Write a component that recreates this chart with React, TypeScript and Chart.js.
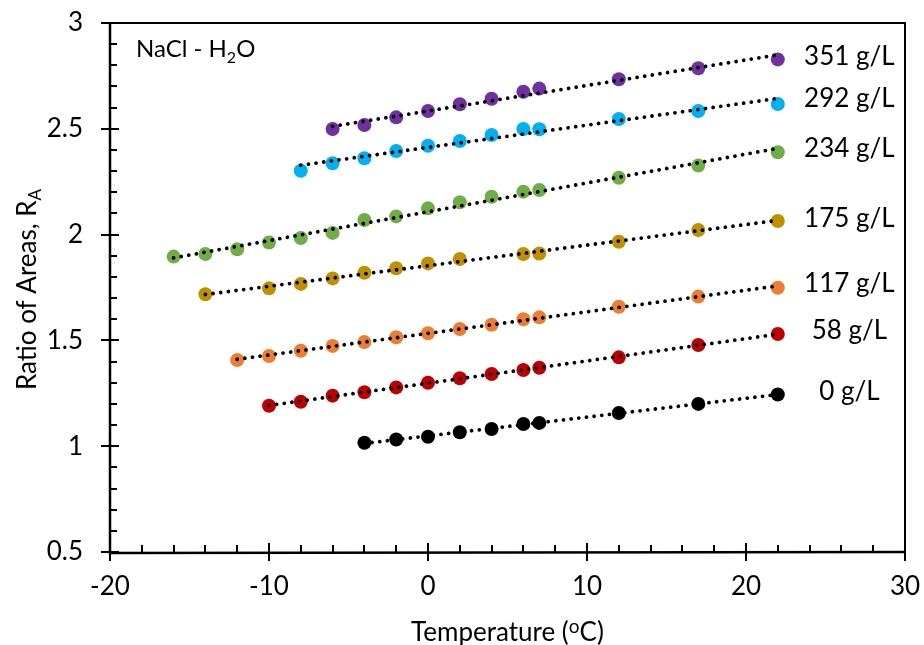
import React, { useEffect, useRef } from "react";
import { Chart, registerables } from "chart.js";

Chart.register(...registerables);

// ---- data ----
const seriesNames = ["0 g/L", "58 g/L", "117 g/L", "175 g/L", "234 g/L", "292 g/L", "351 g/L"];
const seriesColors = ["#000000", "#C00000", "#ED7D31", "#BF9000", "#70AD47", "#00B0F0", "#7030A0"];

const temps0 = [-4, -2, 0, 2, 4, 6, 7, 12, 17, 22];
const ratio0 = [1.016, 1.032, 1.045, 1.066, 1.081, 1.105, 1.11, 1.157, 1.2, 1.244];

const temps58 = [-10, -8, -6, -4, -2, 0, 2, 4, 6, 7, 12, 17, 22];
const ratio58 = [1.191, 1.21, 1.239, 1.255, 1.278, 1.3, 1.321, 1.341, 1.36, 1.371, 1.42, 1.478, 1.53];

const temps117 = [-12, -10, -8, -6, -4, -2, 0, 2, 4, 6, 7, 12, 17, 22];
const ratio117 = [1.407, 1.426, 1.451, 1.474, 1.492, 1.515, 1.534, 1.554, 1.574, 1.6, 1.609, 1.659, 1.707, 1.749];

const temps175 = [-14, -10, -8, -6, -4, -2, 0, 2, 6, 7, 12, 17, 22];
const ratio175 = [1.718, 1.746, 1.767, 1.793, 1.82, 1.841, 1.864, 1.885, 1.908, 1.911, 1.966, 2.022, 2.064];

const temps234 = [-16, -14, -12, -10, -8, -6, -4, -2, 0, 2, 4, 6, 7, 12, 17, 22];
const ratio234 = [1.896, 1.908, 1.931, 1.963, 1.984, 2.008, 2.069, 2.086, 2.124, 2.153, 2.179, 2.203, 2.211, 2.269, 2.326, 2.389];

const temps292 = [-8, -6, -4, -2, 0, 2, 4, 6, 7, 12, 17, 22];
const ratio292 = [2.302, 2.337, 2.361, 2.395, 2.42, 2.442, 2.471, 2.499, 2.498, 2.546, 2.584, 2.617];

const temps351 = [-6, -4, -2, 0, 2, 4, 6, 7, 12, 17, 22];
const ratio351 = [2.499, 2.518, 2.554, 2.584, 2.616, 2.642, 2.675, 2.69, 2.734, 2.786, 2.828];

const seriesTemps = [temps0, temps58, temps117, temps175, temps234, temps292, temps351];
const seriesRatios = [ratio0, ratio58, ratio117, ratio175, ratio234, ratio292, ratio351];

// right-hand labels: position in data units
const labelX = 26.5;
const labelY = [1.262, 1.553, 1.772, 2.081, 2.412, 2.648, 2.846];

const xMin = -20, xMax = 30, xStep = 10, xMinorStep = 2;
const yMin = 0.5, yMax = 3, yStep = 0.5, yMinorStep = 0.1;

const FONT = "Lato, 'Open Sans', sans-serif";

function linearFit(xs: number[], ys: number[]) {
  const n = xs.length;
  let sx = 0, sy = 0, sxx = 0, sxy = 0;
  for (let i = 0; i < n; i++) {
    sx += xs[i]; sy += ys[i]; sxx += xs[i] * xs[i]; sxy += xs[i] * ys[i];
  }
  const b = (n * sxy - sx * sy) / (n * sxx - sx * sx);
  const a = (sy - b * sx) / n;
  return { a, b };
}

const zeroPad = (s: any) => {
  s.paddingTop = 0; s.paddingBottom = 0; s.paddingLeft = 0; s.paddingRight = 0;
};

const decorPlugin = {
  id: "decor",
  afterDraw(chart: any) {
    const { ctx, chartArea: a, scales } = chart;
    const xs = scales.x, ys = scales.y;
    ctx.save();
    ctx.strokeStyle = "#000";
    ctx.fillStyle = "#000";
    ctx.lineCap = "butt";

    // minor + major ticks, y
    ctx.lineWidth = 2;
    const nyMinor = Math.round((yMax - yMin) / yMinorStep);
    for (let i = 0; i <= nyMinor; i++) {
      const v = yMin + i * yMinorStep;
      const py = Math.round(ys.getPixelForValue(v));
      const major = Math.abs(v / yStep - Math.round(v / yStep)) < 1e-6;
      ctx.beginPath();
      if (major) { ctx.moveTo(a.left - 9, py); ctx.lineTo(a.left + 9, py); }
      else { ctx.moveTo(a.left, py); ctx.lineTo(a.left + 7, py); }
      ctx.stroke();
    }
    const nxMinor = Math.round((xMax - xMin) / xMinorStep);
    for (let i = 0; i <= nxMinor; i++) {
      const v = xMin + i * xMinorStep;
      const px = Math.round(xs.getPixelForValue(v));
      const major = Math.abs(v / xStep - Math.round(v / xStep)) < 1e-6;
      ctx.beginPath();
      if (major) { ctx.moveTo(px, a.bottom - 9); ctx.lineTo(px, a.bottom + 9); }
      else { ctx.moveTo(px, a.bottom - 7); ctx.lineTo(px, a.bottom); }
      ctx.stroke();
    }

    // frame
    ctx.lineWidth = 2;
    ctx.beginPath();
    ctx.moveTo(a.left, a.top); ctx.lineTo(a.right, a.top); ctx.lineTo(a.right, a.bottom);
    ctx.stroke();
    ctx.lineWidth = 2.5;
    ctx.beginPath();
    ctx.moveTo(a.left, a.top - 1); ctx.lineTo(a.left, a.bottom + 1); ctx.lineTo(a.right + 1, a.bottom);
    ctx.stroke();

    // series labels
    ctx.font = `26px ${FONT}`;
    ctx.textAlign = "center";
    ctx.textBaseline = "alphabetic";
    for (let i = 0; i < seriesNames.length; i++) {
      const px = xs.getPixelForValue(labelX);
      const py = ys.getPixelForValue(labelY[i]) + 0.36 * 26;
      ctx.fillText(seriesNames[i], px, py);
    }

    // NaCl - H2O
    ctx.textAlign = "left";
    let tx = a.left + 26;
    const tb = a.top + 34;
    ctx.font = `24px ${FONT}`;
    ctx.fillText("NaCl - H", tx, tb);
    tx += ctx.measureText("NaCl - H").width;
    ctx.font = `16px ${FONT}`;
    ctx.fillText("2", tx, tb + 6);
    tx += ctx.measureText("2").width;
    ctx.font = `24px ${FONT}`;
    ctx.fillText("O", tx, tb);

    // x title
    const p1 = "Temperature (", p2 = "o", p3 = "C)";
    ctx.font = `26px ${FONT}`;
    const w1 = ctx.measureText(p1).width, w3 = ctx.measureText(p3).width;
    ctx.font = `19px ${FONT}`;
    const w2 = ctx.measureText(p2).width;
    const cx = (a.left + a.right) / 2;
    const x0 = cx - (w1 + w2 + w3) / 2;
    const xb = 641;
    ctx.font = `26px ${FONT}`;
    ctx.fillText(p1, x0, xb);
    ctx.font = `19px ${FONT}`;
    ctx.fillText(p2, x0 + w1, xb - 8);
    ctx.font = `26px ${FONT}`;
    ctx.fillText(p3, x0 + w1 + w2, xb);

    // y title
    const q1 = "Ratio of Areas, R", q2 = "A";
    ctx.font = `26px ${FONT}`;
    const v1 = ctx.measureText(q1).width;
    ctx.font = `17px ${FONT}`;
    const v2 = ctx.measureText(q2).width;
    ctx.translate(36, (a.top + a.bottom) / 2 + 2);
    ctx.rotate(-Math.PI / 2);
    const y0 = -(v1 + v2) / 2;
    ctx.font = `26px ${FONT}`;
    ctx.fillText(q1, y0, 0);
    ctx.font = `17px ${FONT}`;
    ctx.fillText(q2, y0 + v1, 5);

    ctx.restore();
  },
};

export default function App() {
  const ref = useRef<HTMLCanvasElement | null>(null);

  useEffect(() => {
    if (!ref.current) return;
    const datasets: any[] = [];
    for (let i = 0; i < seriesNames.length; i++) {
      const xsArr = seriesTemps[i], ysArr = seriesRatios[i];
      datasets.push({
        label: seriesNames[i],
        data: xsArr.map((t, k) => ({ x: t, y: ysArr[k] })),
        backgroundColor: seriesColors[i],
        borderColor: seriesColors[i],
        pointRadius: 7,
        pointBorderWidth: 0,
        showLine: false,
        order: 1,
      });
      const { a, b } = linearFit(xsArr, ysArr);
      const lo = Math.min(...xsArr), hi = Math.max(...xsArr);
      datasets.push({
        label: seriesNames[i] + " fit",
        data: [{ x: lo, y: a + b * lo }, { x: hi, y: a + b * hi }],
        borderColor: "#000",
        borderWidth: 3.8,
        borderDash: [0.01, 7.7],
        borderCapStyle: "round",
        pointRadius: 0,
        showLine: true,
        fill: false,
        order: 0,
      });
    }

    const chart = new Chart(ref.current, {
      type: "scatter",
      data: { datasets },
      options: {
        animation: false,
        responsive: false,
        events: [],
        layout: { autoPadding: false, padding: { top: 23, right: 19, left: 0, bottom: 0 } },
        plugins: { legend: { display: false }, tooltip: { enabled: false } },
        scales: {
          x: {
            type: "linear",
            min: xMin,
            max: xMax,
            border: { display: false },
            grid: { display: false, drawTicks: false },
            ticks: {
              stepSize: xStep,
              color: "#000",
              font: { family: FONT, size: 26 },
              padding: 19,
              maxRotation: 0,
              autoSkip: false,
              callback: (v: any) => String(v),
            },
            afterFit: (s: any) => { s.height = 93; zeroPad(s); },
          },
          y: {
            type: "linear",
            min: yMin,
            max: yMax,
            border: { display: false },
            grid: { display: false, drawTicks: false },
            ticks: {
              stepSize: yStep,
              color: "#000",
              font: { family: FONT, size: 26 },
              padding: 27,
              autoSkip: false,
              callback: (v: any) => String(Math.round(v * 10) / 10),
            },
            afterFit: (s: any) => { s.width = 110; zeroPad(s); },
          },
        },
      },
      plugins: [decorPlugin],
    } as any);
    return () => chart.destroy();
  }, []);

  return (
    <div style={{ position: "fixed", left: 0, top: 0, width: 924, height: 645, background: "#fff" }}>
      <canvas ref={ref} width={924} height={645} style={{ display: "block", width: 924, height: 645 }} />
    </div>
  );
}
